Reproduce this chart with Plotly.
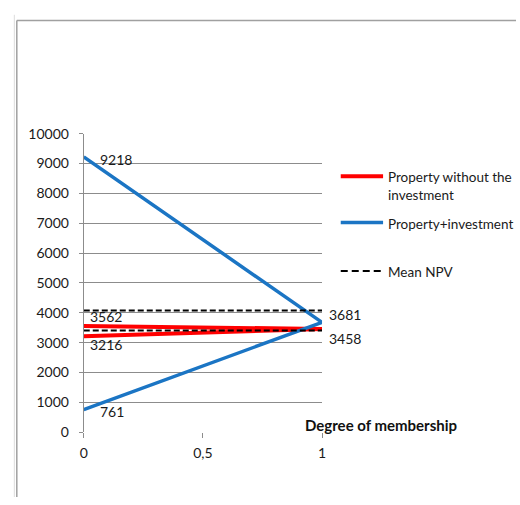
import plotly.graph_objects as go

W, H = 520, 505
def px(x): return x / W
def py(y): return 1 - y / H

# ---- data ----
membership = [0, 1, 0]
without_inv = [3562, 3458, 3216]
with_inv = [9218, 3681, 761]
mean_x = [0, 1, None, 0, 1]
mean_npv = [4080, 4080, None, 3410, 3410]
y_ticks = [0, 1000, 2000, 3000, 4000, 5000, 6000, 7000, 8000, 9000, 10000]
x_ticks = [0, 0.5, 1]
x_ticktext = ["0", "0,5", "1"]
names = ["Property without the<br>investment", "Property+investment", "Mean NPV"]

FONT = "Lato"
GRID = "#8c8c8c"
TXT = "#1a1a1a"
RED, BLUE, BLACK = "#ff0000", "#1b75c4", "#000000"

fig = go.Figure()
fig.add_trace(go.Scatter(x=membership, y=without_inv, mode="lines", name=names[0],
                         line=dict(color=RED, width=4), showlegend=False))
fig.add_trace(go.Scatter(x=membership, y=with_inv, mode="lines", name=names[1],
                         line=dict(color=BLUE, width=3.5), showlegend=False))
fig.add_trace(go.Scatter(x=mean_x, y=mean_npv, mode="lines", name=names[2],
                         line=dict(color=BLACK, width=2, dash="6px,3px"), showlegend=False))

# data labels (x shift, y shift in px)
labels = [
    (membership[0], with_inv[0], 14, -2),
    (membership[2], with_inv[2], 14, -2),
    (membership[1], with_inv[1], 5, 8),
    (membership[0], without_inv[0], 4, 9),
    (membership[2], without_inv[2], 4, -8),
    (membership[1], without_inv[1], 5, -10),
]
ann = []
for xv, yv, xs, ys in labels:
    ann.append(dict(x=xv, y=yv, xref="x", yref="y", text=str(yv), showarrow=False,
                    xanchor="left", yanchor="middle", xshift=xs, yshift=ys,
                    font=dict(family=FONT, size=14, color=TXT)))
ann.append(dict(x=px(304), y=py(431), xref="paper", yref="paper", text="<b>Degree of membership</b>",
                showarrow=False, xanchor="left", yanchor="middle",
                font=dict(family=FONT, size=15, color="#111")))

# legend drawn as shapes + text
leg_items = [
    (names[0], RED, 4, "solid", 173),
    (names[1], BLUE, 3.5, "solid", 221),
    (names[2], BLACK, 2, "7px,4px", 271),
]
shapes = []
for name, col, wd, dash, yy in leg_items:
    shapes.append(dict(type="line", xref="paper", yref="paper", x0=px(342), x1=px(385),
                       y0=py(yy), y1=py(yy), line=dict(color=col, width=wd, dash=dash)))
    ann.append(dict(x=px(388), y=py(yy - 9), xref="paper", yref="paper", text=name,
                    showarrow=False, xanchor="left", yanchor="top", align="left",
                    font=dict(family=FONT, size=13.5, color=TXT)))

shapes += [
    dict(type="line", xref="paper", yref="paper", x0=px(13), x1=1, y0=py(12), y1=py(12),
         line=dict(color="#a0a0a0", width=1.5)),
    dict(type="line", xref="paper", yref="paper", x0=px(13), x1=px(13), y0=py(12), y1=0,
         line=dict(color="#a0a0a0", width=1.5)),
    dict(type="line", xref="paper", yref="paper", x0=px(10.5), x1=px(10.5), y0=py(6), y1=0,
         line=dict(color="#dddddd", width=1)),
]

fig.update_layout(
    width=W, height=H, margin=dict(l=0, r=0, t=0, b=0),
    paper_bgcolor="white", plot_bgcolor="white",
    font=dict(family=FONT, size=14, color=TXT),
    showlegend=False,
    annotations=ann, shapes=shapes,
    xaxis=dict(domain=[px(81), px(323)], range=[0, 1], tickvals=x_ticks, ticktext=x_ticktext,
               showgrid=False, zeroline=False, showline=False, ticks="outside", ticklen=5,
               ticklabelstandoff=3,
               tickcolor=GRID, tickfont=dict(family=FONT, size=14, color=TXT), fixedrange=True),
    yaxis=dict(domain=[py(438), py(129)], range=[0, 10000], tickvals=y_ticks, tickformat="d",
               showgrid=True, gridcolor=GRID, gridwidth=1, zeroline=False,
               showline=True, linecolor=GRID, linewidth=1, ticks="outside", ticklen=4,
               ticklabelstandoff=7,
               tickcolor=GRID, tickfont=dict(family=FONT, size=14, color=TXT), fixedrange=True),
)
fig.write_html("out.html", config={"displayModeBar": False, "staticPlot": True},
               post_script="document.documentElement.style.margin='0';document.body.style.margin='0';"
                           "document.documentElement.style.overflow='hidden';document.body.style.overflow='hidden';")
